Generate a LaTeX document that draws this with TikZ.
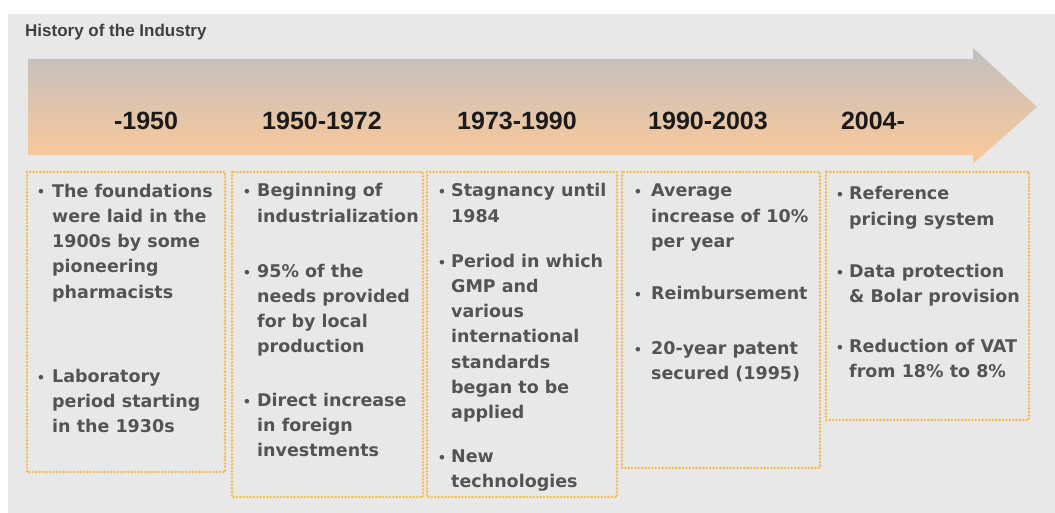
\documentclass[tikz,border=0pt]{standalone}
\usepackage{fontspec}
\setmainfont{DejaVu Sans}
\newfontfamily\headfont{Liberation Sans}
\definecolor{bggray}{RGB}{232,232,232}
\definecolor{arrowtop}{RGB}{192,192,192}
\definecolor{arrowbot}{RGB}{253,201,152}
\definecolor{dotorange}{RGB}{240,188,88}
\definecolor{bodytext}{RGB}{84,84,84}
\definecolor{yeartext}{RGB}{26,26,26}
\definecolor{titletext}{RGB}{64,64,64}
\tikzset{
  panel/.style={draw=dotorange, line width=2.8pt, line cap=round, dash pattern=on 0pt off 3.4pt},
  year/.style={font=\headfont\bfseries\fontsize{25}{28}\selectfont, text=yeartext, anchor=base, inner sep=0pt},
  % multi-line items are placed by the baseline of their last line
  item/.style={font=\bfseries\fontsize{17.5}{25.3}\selectfont, text=bodytext, anchor=base west, align=left, inner sep=0pt},
  dot/.style={font=\bfseries\fontsize{13}{16}\selectfont, text=bodytext, anchor=base, inner sep=0pt}
}
\begin{document}
\begin{tikzpicture}[x=1pt,y=-1pt]
% canvas and grey panel
\fill[white] (0,0) rectangle (1055,513);
\fill[bggray] (8,14) rectangle (1055,513);
\useasboundingbox (0,0) rectangle (1055,513);

% title
\node[font=\headfont\bfseries\fontsize{17}{20}\selectfont, text=titletext, anchor=base west, inner sep=0pt] (title) at (25,37) {History of the Industry};

% timeline arrow
\shade[top color=arrowtop, bottom color=arrowbot]
  (28,59) -- (973,59) -- (973,48) -- (1037,107) -- (973,164) -- (973,155) -- (28,155) -- cycle;

% period labels
\node[year] (y1) at (146,130) {-1950};
\node[year] (y2) at (322,130) {1950-1972};
\node[year] (y3) at (517,130) {1973-1990};
\node[year] (y4) at (708,130) {1990-2003};
\node[year] (y5) at (873,130) {2004-};

% dotted panels
\draw[panel] (27,172) rectangle (225,472);
\draw[panel] (232,172) rectangle (423,497);
\draw[panel] (427,172) rectangle (617,497);
\draw[panel] (622,172) rectangle (820,468);
\draw[panel] (826,172) rectangle (1029,420);

% -1950
\node[dot] (d11) at (41,197) {•};
\node[item] (t11) at (52,298.2) {The foundations\\were laid in the\\1900s by some\\pioneering\\pharmacists};
\node[dot] (d12) at (41,382) {•};
\node[item] (t12) at (52,432.6) {Laboratory\\period starting\\in the 1930s};

% 1950-1972
\node[dot] (d21) at (247,197) {•};
\node[item] (t21) at (257,222.3) {Beginning of\\industrialization};
\node[dot] (d22) at (247,277) {•};
\node[item] (t22) at (257,352.9) {95\% of the\\needs provided\\for by local\\production};
\node[dot] (d23) at (247,406) {•};
\node[item] (t23) at (257,456.6) {Direct increase\\in foreign\\investments};

% 1973-1990
\node[dot] (d31) at (442,197) {•};
\node[item] (t31) at (451,222.3) {Stagnancy until\\1984};
\node[dot] (d32) at (442,267) {•};
\node[item] (t32) at (451,418.8) {Period in which\\GMP and\\various\\international\\standards\\began to be\\applied};
\node[dot] (d33) at (442,462) {•};
\node[item] (t33) at (451,487.3) {New\\technologies};

% 1990-2003
\node[dot] (d41) at (638,197) {•};
\node[item] (t41) at (651,247.6) {Average\\increase of 10\%\\per year};
\node[dot] (d42) at (638,299) {•};
\node[item] (t42) at (651,299) {Reimbursement};
\node[dot] (d43) at (638,354) {•};
\node[item] (t43) at (651,379.3) {20-year patent\\secured (1995)};

% 2004-
\node[dot] (d51) at (840,200) {•};
\node[item] (t51) at (849,225.3) {Reference\\pricing system};
\node[dot] (d52) at (840,277) {•};
\node[item] (t52) at (849,302.3) {Data protection\\\& Bolar provision};
\node[dot] (d53) at (840,352) {•};
\node[item] (t53) at (849,377.3) {Reduction of VAT\\from 18\% to 8\%};
\end{tikzpicture}
\end{document}
